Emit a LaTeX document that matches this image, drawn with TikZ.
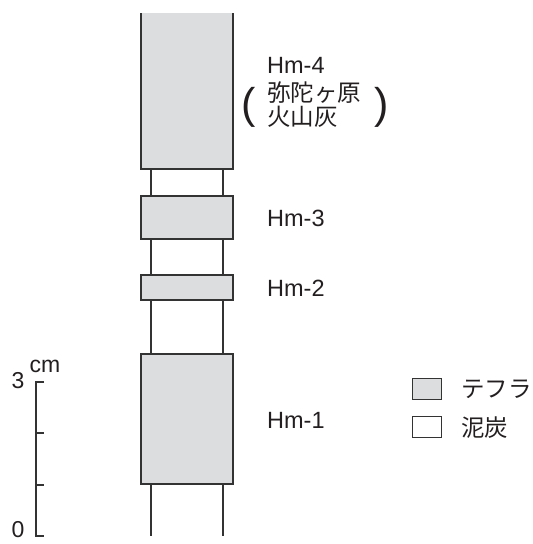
\documentclass[tikz,border=0pt]{standalone}
\usepackage{fontspec}
\setmainfont{Liberation Sans}
\newfontfamily\cjk{Noto Sans CJK JP}
\definecolor{linecol}{HTML}{333333}
\definecolor{tephra}{HTML}{DCDDDF}
\definecolor{txtcol}{HTML}{231F20}
\begin{document}
\begin{tikzpicture}[x=1pt,y=-1pt,
  lay/.style={draw=linecol,line width=1.5pt,fill=tephra},
  peatline/.style={draw=linecol,line width=1.5pt},
  lbl/.style={anchor=west,inner sep=0pt,text=txtcol,font=\fontsize{23.5}{25}\selectfont},
  jlbl/.style={anchor=west,inner sep=0pt,text=txtcol,font=\cjk\fontsize{23.5}{25}\selectfont},
  sc/.style={inner sep=0pt,text=txtcol,font=\fontsize{23}{25}\selectfont},
  paren/.style={inner sep=0pt,text=txtcol,font=\fontsize{43}{43}\selectfont}]
\useasboundingbox (0,0) rectangle (533,544);
% column: peat lines
\coordinate (ltop) at (151,169);
\coordinate (lbot) at (151,536);
\coordinate (rtop) at (223,169);
\coordinate (rbot) at (223,536);
\draw[peatline] (ltop) -- (lbot);
\draw[peatline] (rtop) -- (rbot);
% Hm-4 (open top)
\fill[tephra] (141,13) rectangle (233,169);
\draw[linecol,line width=1.5pt] (141,13) -- (141,169) -- (233,169) -- (233,13);
% Hm-3
\draw[lay] (141,196) rectangle (233,239);
% Hm-2
\draw[lay] (141,275) rectangle (233,300);
% Hm-1
\draw[lay] (141,354) rectangle (233,484);
% labels
\node[lbl] (h4) at (267,65) {Hm-4};
\node[jlbl] (j1) at (267,93) {弥陀ヶ原};
\node[jlbl] (j2) at (267,117) {火山灰};
\node[paren] (pl) at (249,107) {(};
\node[paren] (pr) at (382,107) {)};
\node[lbl] (h3) at (267,218) {Hm-3};
\node[lbl] (h2) at (267,288) {Hm-2};
\node[lbl] (h1) at (267,420) {Hm-1};
% scale bar
\coordinate (s3) at (36,382);
\coordinate (s0) at (36,536);
\draw[linecol,line width=1.3pt] (44,382) -- (s3) -- (s0) -- (44,536);
\draw[linecol,line width=1.3pt] (36,433) -- (44,433);
\draw[linecol,line width=1.3pt] (36,485) -- (44,485);
\node[sc] (n3) at (18,381) {3};
\node[sc] (n0) at (18,530) {0};
\node[sc] (ncm) at (45,366) {cm};
% legend
\node[draw=linecol,line width=1.5pt,fill=tephra,minimum width=29pt,minimum height=21pt,inner sep=0pt] (lg1) at (427,389) {};
\node[draw=linecol,line width=1.5pt,fill=white,minimum width=29pt,minimum height=21pt,inner sep=0pt] (lg2) at (427,427) {};
\node[jlbl] (t1) at (461,389) {テフラ};
\node[jlbl] (t2) at (461,428) {泥炭};
\end{tikzpicture}
\end{document}
